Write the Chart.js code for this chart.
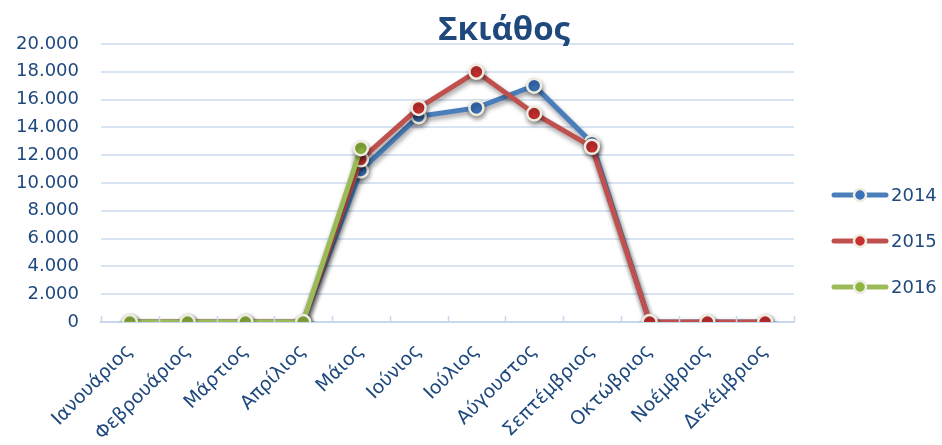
<!DOCTYPE html>
<html>
<head>
<meta charset="utf-8">
<script src="https://cdn.jsdelivr.net/npm/chart.js@4.4.1/dist/chart.umd.min.js"></script>
<style>
  html, body { margin: 0; padding: 0; background: #fff; }
  #wrap { width: 942px; height: 445px; position: relative; }
</style>
</head>
<body>
<div id="wrap"><canvas id="skiathosChart"></canvas></div>
<script>
const months = ["Ιανουάριος", "Φεβρουάριος", "Μάρτιος", "Απρίλιος", "Μάιος", "Ιούνιος",
    "Ιούλιος", "Αύγουστος", "Σεπτέμβριος", "Οκτώβριος", "Νοέμβριος", "Δεκέμβριος"];
const years = ["2014", "2015", "2016"];
const values2014 = [0, 0, 0, 0, 10900, 14800, 15400, 17000, 12900, 0, 0, 0];
const values2015 = [0, 0, 0, 0, 11700, 15400, 18000, 15000, 12600, 0, 0, 0];
const values2016 = [0, 0, 0, 0, 12500, null, null, null, null, null, null, null];
const yTicks = [0, 2000, 4000, 6000, 8000, 10000, 12000, 14000, 16000, 18000, 20000];
const chartTitle = "Σκιάθος";

const textBlue = "#1F497D";
const lineColors = ["#4A7EBB", "#C0504D", "#9BBB59"];
const markerColors = ["#3A70B8", "#C8302F", "#8DB43E"];

function formatGreek(v) {
    return String(v).replace(/\B(?=(\d{3})+(?!\d))/g, ".");
}

// soft shadow under lines and markers
const shadowPlugin = {
    id: "shadow",
    beforeDatasetsDraw(chart) {
        const ctx = chart.ctx;
        ctx.save();
        ctx.shadowColor = "rgba(0,0,0,0.4)";
        ctx.shadowBlur = 5;
        ctx.shadowOffsetX = 1;
        ctx.shadowOffsetY = 3;
    },
    afterDatasetsDraw(chart) {
        chart.ctx.restore();
    },
};

// inner tick marks on the category axis + title + legend
const decorPlugin = {
    id: "decor",
    afterDraw(chart) {
        const ctx = chart.ctx;
        const area = chart.chartArea;
        ctx.save();
        ctx.strokeStyle = "#C6D7EE";
        ctx.lineWidth = 1.5;
        const step = (area.right - area.left) / months.length;
        for (let i = 0; i <= months.length; i++) {
            const px = Math.round(area.left + i * step) + 0.5;
            ctx.beginPath();
            ctx.moveTo(px, area.bottom);
            ctx.lineTo(px, area.bottom - 6);
            ctx.stroke();
        }

        // title
        ctx.fillStyle = textBlue;
        ctx.font = "bold 33px 'Open Sans'";
        ctx.textAlign = "center";
        ctx.textBaseline = "alphabetic";
        ctx.fillText(chartTitle, 504, 40);

        // legend
        ctx.font = "18px 'DejaVu Sans'";
        ctx.textAlign = "left";
        ctx.textBaseline = "middle";
        chart.data.datasets.forEach((ds, i) => {
            const y = 195 + i * 46;
            ctx.strokeStyle = ds.borderColor;
            ctx.lineWidth = 5;
            ctx.lineCap = "round";
            ctx.beginPath();
            ctx.moveTo(834, y);
            ctx.lineTo(886, y);
            ctx.stroke();
            ctx.beginPath();
            ctx.arc(860, y, 6, 0, Math.PI * 2);
            ctx.fillStyle = ds.pointBackgroundColor;
            ctx.fill();
            ctx.lineWidth = 2.5;
            ctx.strokeStyle = ds.pointBorderColor;
            ctx.stroke();
            ctx.fillStyle = textBlue;
            ctx.fillText(ds.label, 891, y + 1);
        });
        ctx.restore();
    },
};

const seriesValues = [values2014, values2015, values2016];

new Chart(document.getElementById("skiathosChart"), {
    type: "line",
    data: {
        labels: months,
        datasets: years.map((year, i) => ({
            label: year,
            data: seriesValues[i],
            borderColor: lineColors[i],
            backgroundColor: lineColors[i],
            borderWidth: 5,
            pointRadius: 7,
            pointHoverRadius: 7,
            pointBackgroundColor: markerColors[i],
            pointBorderColor: "#EEECE1",
            pointBorderWidth: 2.5,
            tension: 0,
            spanGaps: false,
            order: 2 - i,
        })),
    },
    options: {
        responsive: true,
        maintainAspectRatio: false,
        animation: false,
        layout: { padding: { left: 15, right: 148, top: 44, bottom: 0 } },
        plugins: {
            legend: { display: false },
            title: { display: false },
            tooltip: { enabled: false },
        },
        scales: {
            x: {
                offset: true,
                grid: { display: false },
                border: { display: true, color: "#C6D7EE", width: 2 },
                afterFit(scale) {
                    scale.paddingLeft = 0;
                    scale.paddingRight = 0;
                    scale.height = 123;
                },
                ticks: {
                    color: textBlue,
                    font: { family: "DejaVu Sans", size: 19 },
                    minRotation: 45,
                    maxRotation: 45,
                    padding: 10,
                    autoSkip: false,
                },
            },
            y: {
                min: 0,
                max: 20000,
                afterBuildTicks(scale) {
                    scale.ticks = yTicks.map((v) => ({ value: v }));
                },
                afterFit(scale) {
                    scale.width = 86;
                },
                border: { display: false },
                grid: { color: "#D9E4F3", lineWidth: 2, drawTicks: false },
                ticks: {
                    color: textBlue,
                    font: { family: "DejaVu Sans", size: 18 },
                    padding: 22,
                    callback: (v) => formatGreek(v),
                },
            },
        },
    },
    plugins: [shadowPlugin, decorPlugin],
});
</script>
</body>
</html>
